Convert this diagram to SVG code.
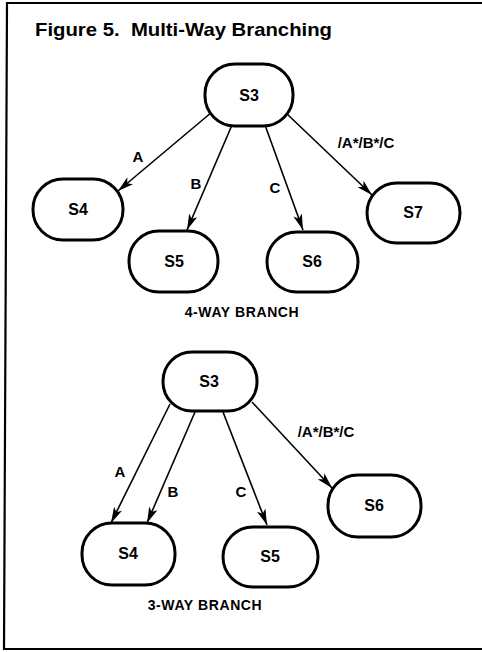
<svg xmlns="http://www.w3.org/2000/svg" width="482" height="652" viewBox="0 0 482 652">
<style>
.node{fill:#fff;stroke:#000;stroke-width:3}
.nt{font-family:"Liberation Sans",Arial,sans-serif;font-weight:bold;font-size:16px;text-anchor:middle;fill:#000}
.lbl{font-family:"Liberation Sans",Arial,sans-serif;font-weight:bold;font-size:15px;text-anchor:middle;fill:#000}
.cap{font-family:"Liberation Sans",Arial,sans-serif;font-weight:bold;font-size:14px;letter-spacing:0.6px;text-anchor:middle;fill:#000}
.edge{fill:none;stroke:#000;stroke-width:1.6;marker-end:url(#ah)}
</style>
<defs>
<marker id="ah" viewBox="0 0 16 9" refX="16" refY="4.5" markerWidth="16" markerHeight="9" markerUnits="userSpaceOnUse" orient="auto">
<path d="M0,0 L16,4.5 L0,9 L4,4.5 z" fill="#000"/>
</marker>
</defs>
<rect width="482" height="652" fill="#fff"/>
<path d="M482,3 L7,3 L4,649 L482,649" fill="none" stroke="#000" stroke-width="2.2"/>
<text x="35" y="36" xml:space="preserve" font-family="'Liberation Sans',Arial,sans-serif" font-weight="bold" font-size="18.5" textLength="297" lengthAdjust="spacingAndGlyphs">Figure 5.  Multi-Way Branching</text>

<g id="connectors">
<line class="edge" x1="212" y1="112" x2="118" y2="191"/>
<line class="edge" x1="232" y1="125" x2="187" y2="230"/>
<line class="edge" x1="265" y1="125" x2="303" y2="230"/>
<line class="edge" x1="286" y1="113" x2="372" y2="195"/>
<line class="edge" x1="170" y1="404" x2="111" y2="523"/>
<line class="edge" x1="195" y1="412" x2="147" y2="523"/>
<line class="edge" x1="223" y1="412" x2="267" y2="525"/>
<line class="edge" x1="252" y1="402" x2="332" y2="488"/>
</g>

<g id="labels">
<text class="lbl" x="138" y="162">A</text>
<text class="lbl" x="196" y="189">B</text>
<text class="lbl" x="275" y="193">C</text>
<text class="lbl" x="366" y="148">/A*/B*/C</text>
<text class="lbl" x="120" y="477">A</text>
<text class="lbl" x="173" y="497">B</text>
<text class="lbl" x="241" y="497">C</text>
<text class="lbl" x="326" y="437">/A*/B*/C</text>
<text class="cap" x="242" y="317">4-WAY BRANCH</text>
<text class="cap" x="205" y="610">3-WAY BRANCH</text>
</g>

<g id="top-S3"><rect class="node" x="205" y="64" width="88" height="62" rx="30"/><text class="nt" x="249" y="101">S3</text></g>
<g id="top-S4"><rect class="node" x="33" y="179" width="90" height="61" rx="30"/><text class="nt" x="78" y="215">S4</text></g>
<g id="top-S5"><rect class="node" x="129" y="231" width="89" height="61" rx="30"/><text class="nt" x="174" y="267">S5</text></g>
<g id="top-S6"><rect class="node" x="267" y="232" width="91" height="60" rx="30"/><text class="nt" x="312" y="267">S6</text></g>
<g id="top-S7"><rect class="node" x="367" y="183" width="93" height="60" rx="30"/><text class="nt" x="413" y="218">S7</text></g>

<g id="bot-S3"><rect class="node" x="163" y="352" width="94" height="59" rx="29"/><text class="nt" x="209" y="387">S3</text></g>
<g id="bot-S4"><rect class="node" x="82" y="523" width="93" height="62" rx="30"/><text class="nt" x="128" y="559">S4</text></g>
<g id="bot-S5"><rect class="node" x="223" y="527" width="95" height="60" rx="30"/><text class="nt" x="270" y="562">S5</text></g>
<g id="bot-S6"><rect class="node" x="328" y="475" width="93" height="62" rx="30"/><text class="nt" x="374" y="511">S6</text></g>
</svg>
